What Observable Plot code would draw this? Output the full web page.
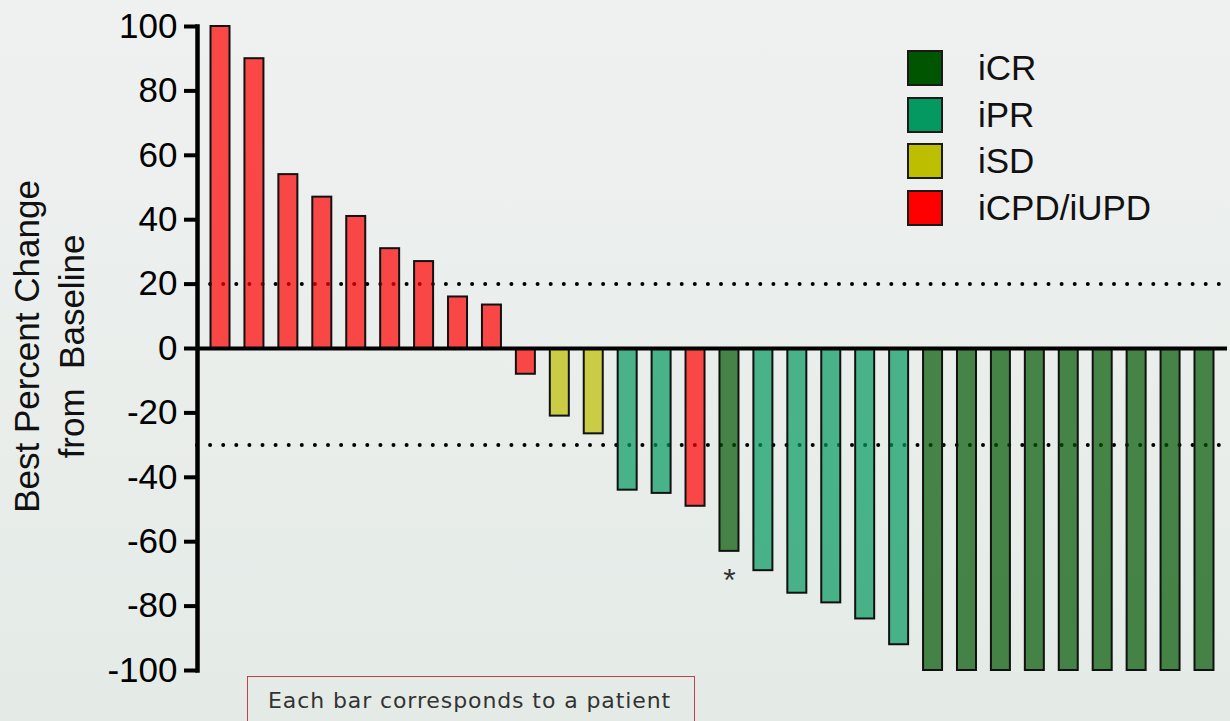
<!DOCTYPE html>
<html>
<head>
<meta charset="utf-8">
<script src="https://cdn.jsdelivr.net/npm/d3@7"></script>
<script src="https://cdn.jsdelivr.net/npm/@observablehq/plot@0.6"></script>
<style>
  html, body { margin: 0; padding: 0; }
  body { background: linear-gradient(#eff1f0, #e4ebe7); width: 1230px; height: 721px; overflow: hidden; }
  #wrap { position: relative; width: 1230px; height: 721px; }
  #legend { position: absolute; left: 907px; top: 50px; font-family: "Liberation Sans", Arial, sans-serif; font-size: 35px; color: #111; }
  #legend .row { display: flex; align-items: center; height: 36px; margin-bottom: 10.7px; }
  #legend .sw { width: 32px; height: 32px; border: 2px solid #1a1a1a; margin-right: 35px; }
  #caption { position: absolute; left: 247px; top: 676px; width: 448px; height: 80px; border: 1px solid #c2414b; box-sizing: border-box;
             font-family: "DejaVu Sans", sans-serif; font-size: 22px; color: #333; padding-left: 20px; padding-top: 11px; letter-spacing: 0.9px; }
</style>
</head>
<body>
<div id="wrap">
  <div id="chart"></div>
  <div id="legend"></div>
  <div id="caption">Each bar corresponds to a patient</div>
</div>
<script>
// Best percent change from baseline, one bar per patient (sorted waterfall)
const patients = d3.range(1, 31);
const bestChange = [100, 90, 54, 47, 41, 31, 27, 16, 13.5, -8,
                    -21, -26.5, -44, -45, -49, -63, -69, -76, -79, -84,
                    -92, -100, -100, -100, -100, -100, -100, -100, -100, -100];
const response = ["iCPD/iUPD", "iCPD/iUPD", "iCPD/iUPD", "iCPD/iUPD", "iCPD/iUPD",
                  "iCPD/iUPD", "iCPD/iUPD", "iCPD/iUPD", "iCPD/iUPD", "iCPD/iUPD",
                  "iSD", "iSD", "iPR", "iPR", "iCPD/iUPD",
                  "iCR", "iPR", "iPR", "iPR", "iPR",
                  "iPR", "iCR", "iCR", "iCR", "iCR",
                  "iCR", "iCR", "iCR", "iCR", "iCR"];

// Response categories and their colours
const responseCategories = ["iCR", "iPR", "iSD", "iCPD/iUPD"];
const responseColors = ["#005600", "#049960", "#bebe00", "#ff0000"];

// Axis ticks and reference thresholds (+20% progression, -30% response)
const yTicks = [-100, -80, -60, -40, -20, 0, 20, 40, 60, 80, 100];
const thresholds = [20, -30];

// Footnote marker under a bar
const markedPatients = [16];
const markLabels = ["*"];

const rows = patients.map((p, i) => ({patient: p, change: bestChange[i], response: response[i]}));
const marks = markedPatients.map((p, i) => ({patient: p, change: bestChange[p - 1], label: markLabels[i]}));

const fig = Plot.plot({
  width: 1230,
  height: 721,
  marginLeft: 197,
  marginRight: 3,
  marginTop: 26,
  marginBottom: 51,
  style: {background: "transparent", fontFamily: "Liberation Sans, Arial, sans-serif", color: "#000", overflow: "visible"},
  x: {type: "band", domain: patients, paddingInner: 0.44, paddingOuter: 0.398, round: false, axis: null},
  y: {domain: [-100, 100], axis: null},
  color: {domain: responseCategories, range: responseColors},
  marks: [
    Plot.ruleY(thresholds, {stroke: "#000", strokeWidth: 4, strokeDasharray: "0 13.1", strokeLinecap: "round"}),
    Plot.barY(rows, {x: "patient", y: "change", fill: "response", fillOpacity: 0.7, stroke: "#111", strokeWidth: 2}),
    Plot.ruleY([0], {stroke: "#000", strokeWidth: 4}),
    Plot.frame({anchor: "left", stroke: "#000", strokeWidth: 4.5, strokeLinecap: "square"}),
    Plot.axisY({ticks: yTicks, tickSize: 13, tickPadding: 7, strokeWidth: 4, fontSize: 35, label: null, tickFormat: d => String(d)}),
    Plot.text(["Best Percent Change\nfrom\u00a0 Baseline"], {frameAnchor: "left", dx: -150, dy: -2, rotate: -90,
      fontSize: 35, lineHeight: 1.28, textAnchor: "middle", lineAnchor: "middle", fill: "#111"}),
    Plot.text(marks, {x: "patient", y: "change", text: "label", fontSize: 32, lineAnchor: "top", dy: 17, fill: "#333"})
  ]
});
document.getElementById("chart").appendChild(fig);

// Response legend, coloured from the plot's own colour scale
const color = fig.scale("color");
const legend = d3.select("#legend");
color.domain.forEach((c, i) => {
  const row = legend.append("div").attr("class", "row");
  row.append("div").attr("class", "sw").style("background", color.range[i]);
  row.append("span").text(c);
});
</script>
</body>
</html>
